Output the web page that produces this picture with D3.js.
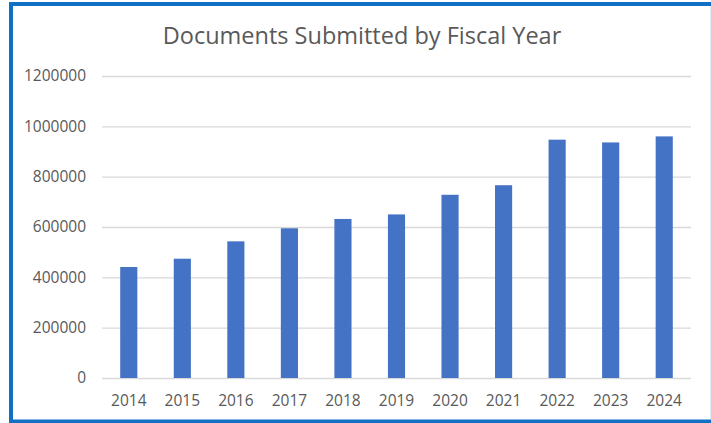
<!DOCTYPE html>
<html><head><meta charset="utf-8">
<script src="https://cdn.jsdelivr.net/npm/d3@7"></script>
<style>html,body{margin:0;padding:0;background:#fff;overflow:hidden}</style>
</head><body>
<svg id="c" width="711" height="423"></svg>
<script>
const years = ["2014","2015","2016","2017","2018","2019","2020","2021","2022","2023","2024"];
const documents = [441000,474000,543000,595000,632000,650000,728000,766000,947000,936000,960000];
const yTicks = [0,200000,400000,600000,800000,1000000,1200000];
const title = "Documents Submitted by Fiscal Year";

const svg = d3.select("#c");
const font = "'Open Sans', sans-serif";
const textColor = "#595959";

// frame
svg.append("rect").attr("x",0).attr("y",0).attr("width",711).attr("height",423).attr("fill","#fff");
svg.append("rect").attr("x",11).attr("y",4).attr("width",705).attr("height",417.5)
  .attr("fill","none").attr("stroke","#1170C4").attr("stroke-width",4);
svg.append("line").attr("x1",710.5).attr("x2",710.5).attr("y1",6).attr("y2",419)
  .attr("stroke","#dfeaf5").attr("stroke-width",1);

const m = {left:102, right:691, top:76, bottom:378};
const x = d3.scaleBand().domain(years).range([m.left,m.right]).paddingInner(0.68).paddingOuter(0.34);
const y = d3.scaleLinear().domain([0,1200000]).range([m.bottom,m.top]);

// gridlines
const yAxis = d3.axisLeft(y).tickValues(yTicks).tickSize(-(m.right-m.left)).tickPadding(16).tickFormat(d3.format("d"));
const gy = svg.append("g").attr("transform",`translate(${m.left},0)`).call(yAxis);
gy.select(".domain").remove();
gy.selectAll(".tick line").attr("stroke","#d9d9d9").attr("stroke-width",1.3);
gy.selectAll(".tick text").attr("fill",textColor).attr("font-family",font).attr("font-size",15.5);

// bars
svg.append("g").selectAll("rect").data(years).join("rect")
  .attr("x",d=>x(d)).attr("width",x.bandwidth())
  .attr("y",(d,i)=>y(documents[i])).attr("height",(d,i)=>y(0)-y(documents[i]))
  .attr("fill","#4472C4");

// x axis
const xAxis = d3.axisBottom(x).tickSize(0).tickPadding(17);
const gx = svg.append("g").attr("transform",`translate(0,${m.bottom})`).call(xAxis);
gx.select(".domain").remove();
gx.selectAll(".tick text").attr("fill",textColor).attr("font-family",font).attr("font-size",15.5);

// title
svg.append("text").attr("x",362).attr("y",44).attr("text-anchor","middle")
  .attr("font-family",font).attr("font-size",23.5).attr("fill",textColor).text(title);
</script>
</body></html>
